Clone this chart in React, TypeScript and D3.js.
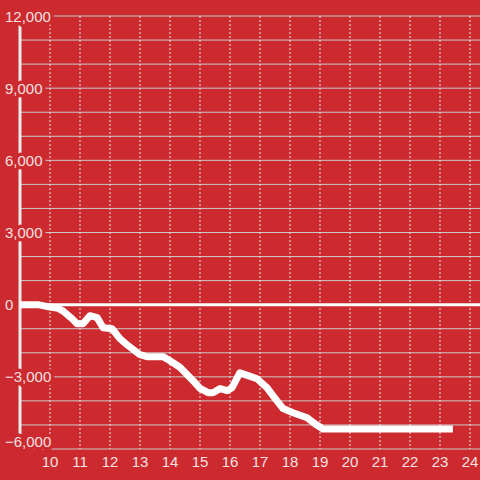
import React from "react";
import * as d3 from "d3";

const hours = [9, 9.6, 10.0, 10.27, 10.45, 10.75, 10.9, 11.1, 11.33, 11.57, 11.77, 12.07, 12.33, 12.6, 13.0, 13.23, 13.77, 14.0, 14.33, 14.77, 15.0, 15.27, 15.43, 15.67, 15.9, 16.07, 16.33, 16.6, 16.9, 17.23, 17.43, 17.77, 18.1, 18.57, 18.83, 19.1, 23.43];
const values = [0, 0, -100, -150, -280, -600, -790, -790, -457, -540, -956, -1000, -1413, -1700, -2080, -2160, -2160, -2330, -2600, -3160, -3480, -3660, -3660, -3490, -3575, -3450, -2830, -2950, -3080, -3450, -3780, -4320, -4490, -4700, -4950, -5170, -5170];

const xTicks = [10, 11, 12, 13, 14, 15, 16, 17, 18, 19, 20, 21, 22, 23, 24];
const yGrid = d3.range(-6000, 12001, 1000);
const yLabels = [12000, 9000, 6000, 3000, 0, -3000, -6000];

const BG = "#cc2a2f";

export default function App() {
  const x = d3.scaleLinear().domain([10, 24]).range([50, 470]);
  const y = d3.scaleLinear().domain([-6000, 12000]).range([449, 16]);
  const pts = hours.map((h, i) => [h, values[i]] as [number, number]);
  const line = d3
    .line<[number, number]>()
    .x((d) => x(d[0]))
    .y((d) => y(d[1]));
  const fmt = d3.format(",");
  return (
    <svg
      width={480}
      height={480}
      style={{ position: "absolute", left: 0, top: 0 }}
      fontFamily="'Liberation Sans', Arial, sans-serif"
    >
      <rect x={0} y={0} width={480} height={480} fill={BG} />
      {yGrid.map((v) => (
        <line key={"g" + v} x1={20} x2={480} y1={y(v)} y2={y(v)} stroke="#c9c9c9" strokeWidth={1} />
      ))}
      {xTicks.map((h) => (
        <line
          key={"v" + h}
          x1={x(h)}
          x2={x(h)}
          y1={y(12000)}
          y2={y(-6000)}
          stroke="#e6e6e6"
          strokeWidth={1}
          strokeDasharray="2,2"
        />
      ))}
      <line x1={20} x2={20} y1={y(12000)} y2={y(-6000)} stroke="#ececec" strokeWidth={3} />
      <line x1={20} x2={480} y1={y(0)} y2={y(0)} stroke="#ffffff" strokeWidth={3} />
      <path
        d={line(pts) || ""}
        fill="none"
        stroke="#ffffff"
        strokeWidth={7}
        strokeLinejoin="round"
      />
      {yLabels.map((v) => (
        <text
          key={"yl" + v}
          x={5}
          y={Math.min(y(v) + 5.5, 447)}
          fontSize={15}
          fill="#f3e1e1"
          stroke={BG}
          strokeWidth={7}
          paintOrder="stroke"
          strokeLinejoin="round"
        >
          {fmt(v)}
        </text>
      ))}
      {xTicks.map((h) => (
        <text key={"xl" + h} x={x(h)} y={467} fontSize={15} fill="#f3e1e1" textAnchor="middle">
          {h}
        </text>
      ))}
    </svg>
  );
}
